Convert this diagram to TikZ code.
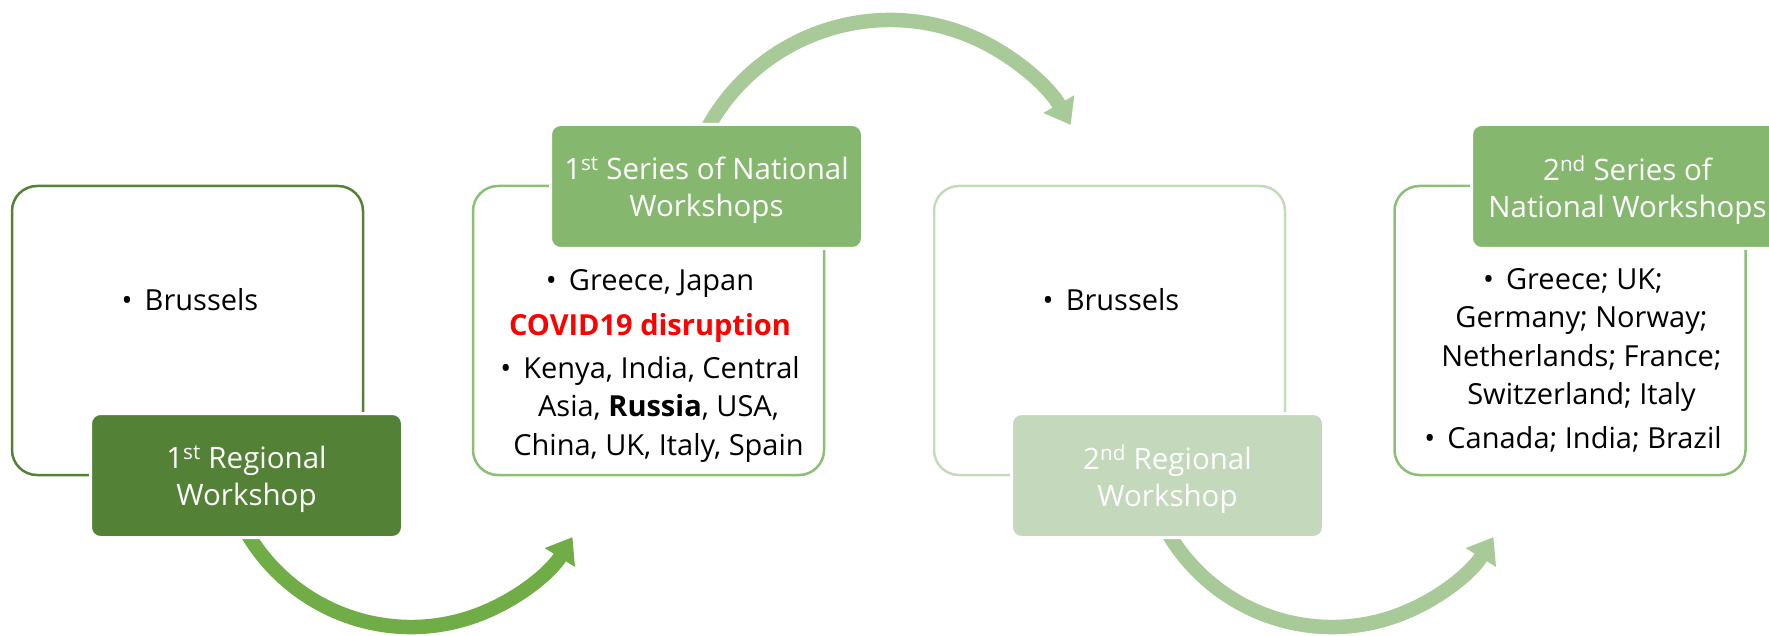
\documentclass[tikz,border=0pt]{standalone}
\usepackage{fontspec}
\setmainfont{Open Sans}
\usetikzlibrary{arrows.meta,calc}
\definecolor{gdark}{HTML}{538135}
\definecolor{garrow}{HTML}{70AD47}
\definecolor{gmid}{HTML}{85B86E}
\definecolor{gmidline}{HTML}{8DBE78}
\definecolor{glight}{HTML}{C4D8BC}
\definecolor{glightline}{HTML}{C5DABD}
\definecolor{garrowlight}{HTML}{A8CA98}
\newcommand\mybul{•\hspace{0.42em}}
\begin{document}
\begin{tikzpicture}[x=1pt,y=-1pt,
  every node/.style={font=\fontsize{29}{38.5}\selectfont},
  framebox/.style={draw, line width=2.5pt, rounded corners=25pt, minimum width=351pt, minimum height=289pt, inner sep=0pt},
  labelbox/.style={draw=white, line width=3pt, rounded corners=10pt, minimum width=312pt, minimum height=124pt, inner sep=0pt, text=white, align=center, text depth=0pt, font=\fontsize{29.5}{37.5}\selectfont},
  bodytext/.style={align=center, anchor=base, inner sep=0pt},
  flowarrow/.style={line width=14.5pt, -{Triangle[length=24pt,width=34pt]}}
]
\useasboundingbox (0,0) rectangle (1769,636);
\clip (0,0) rectangle (1769,636);

\node[framebox, draw=gdark] (f1) at (187.5,330.5) {};
\node[framebox, draw=gmidline] (f2) at (648.5,330.5) {};
\node[framebox, draw=glightline] (f3) at (1109.5,330.5) {};
\node[framebox, draw=gmidline] (f4) at (1570,330.5) {};

% base anchor of a multi-line node = baseline of its last line
\node[bodytext] (t1) at (190,310.7) {\mybul Brussels};
\node[bodytext] (t2) at (650,455) {\mybul Greece, Japan\\[6.5pt]
  {\color{red}\bfseries COVID19 disruption}\\[4.5pt]
  \mybul Kenya, India, Central\\
  \hspace*{17pt}Asia, \textbf{Russia}, USA,\\
  \hspace*{17pt}China, UK, Italy, Spain};
\node[bodytext] (t3) at (1111,310.7) {\mybul Brussels};
\node[bodytext] (t4) at (1573,448) {\mybul Greece; UK;\\
  \hspace*{17pt}Germany; Norway;\\
  \hspace*{17pt}Netherlands; France;\\
  \hspace*{17pt}Switzerland; Italy\\[4.7pt]
  \mybul Canada; India; Brazil};

\coordinate (c1) at (411,437);
\coordinate (c2) at (890,228);
\coordinate (c3) at (1332,437);
\draw[flowarrow, garrow] ($(c1)+(200:190pt)$) arc[start angle=200, end angle=328.2, radius=190pt];
\draw[flowarrow, garrowlight] ($(c2)+(155:208pt)$) arc[start angle=155, end angle=29.7, radius=208pt];
\draw[flowarrow, garrowlight] ($(c3)+(200:190pt)$) arc[start angle=200, end angle=328.2, radius=190pt];

\node[labelbox, fill=gdark] (l1) at (246.5,475.5) {1\textsuperscript{st} Regional\\Workshop};
\node[labelbox, fill=gmid] (l2) at (706.5,186.5) {1\textsuperscript{st} Series of National\\Workshops};
\node[labelbox, fill=glight] (l3) at (1167.5,475.5) {2\textsuperscript{nd} Regional\\Workshop};
\node[labelbox, fill=gmid] (l4) at (1627.5,186.5) {2\textsuperscript{nd} Series of\\National Workshops};
\end{tikzpicture}
\end{document}
